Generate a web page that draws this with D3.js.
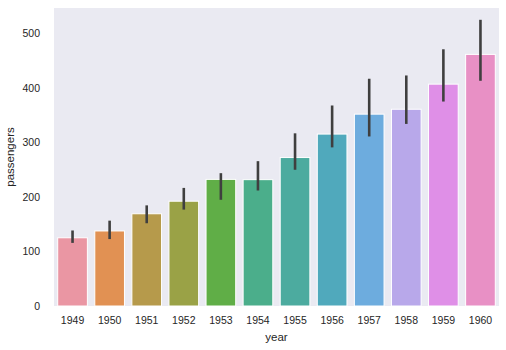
<!DOCTYPE html>
<html>
<head>
<meta charset="utf-8">
<script src="https://cdn.jsdelivr.net/npm/d3@7"></script>
<style>
  html, body { margin: 0; padding: 0; background: #ffffff; }
  svg { display: block; }
  text { font-family: "Liberation Sans", Arial, sans-serif; fill: #262626; }
</style>
</head>
<body>
<svg id="chart" width="506" height="350"></svg>
<script>
// Median monthly passengers per year, with 95% interval for each year
const years = ["1949", "1950", "1951", "1952", "1953", "1954", "1955", "1956", "1957", "1958", "1959", "1960"];
const medians = [125, 137.5, 169, 192, 232, 231.5, 272, 315, 351.5, 360.5, 406.5, 461];
const ciLow = [118, 125, 154, 179, 197, 214, 252, 293, 313, 336, 377, 415];
const ciHigh = [136, 154, 182, 214, 241, 263, 314, 365, 414, 420, 468, 522];
const barColors = ["#ea96a3", "#e19153", "#b69a4b", "#9aa246", "#60ae47", "#4bae8b", "#4cab9f", "#50a9bc", "#6dacde", "#b8a8ea", "#df8fe7", "#e890c5"];
const yTicks = [0, 100, 200, 300, 400, 500];

const svg = d3.select("#chart");
const margin = { left: 54, right: 7, top: 8, bottom: 44 };
const W = 506, H = 350;
const innerW = W - margin.left - margin.right;
const innerH = H - margin.top - margin.bottom;
const font = "Liberation Sans, Arial, sans-serif";

const g = svg.append("g").attr("transform", `translate(${margin.left},${margin.top})`);

g.append("rect")
  .attr("width", innerW)
  .attr("height", innerH)
  .attr("fill", "#eaeaf2");

const x = d3.scaleBand().domain(years).range([0, innerW]).paddingInner(0.2).paddingOuter(0.1);
const y = d3.scaleLinear().domain([0, 546]).range([innerH, 0]);

const rows = years.map((yr, i) => ({ yr, v: medians[i], lo: ciLow[i], hi: ciHigh[i], c: barColors[i] }));

g.selectAll("rect.bar")
  .data(rows)
  .join("rect")
  .attr("class", "bar")
  .attr("x", d => x(d.yr))
  .attr("width", x.bandwidth())
  .attr("y", d => y(d.v))
  .attr("height", d => y(0) - y(d.v))
  .attr("fill", d => d.c)
  .attr("stroke", "#ffffff")
  .attr("stroke-width", 1);

g.selectAll("line.err")
  .data(rows)
  .join("line")
  .attr("class", "err")
  .attr("x1", d => x(d.yr) + x.bandwidth() / 2)
  .attr("x2", d => x(d.yr) + x.bandwidth() / 2)
  .attr("y1", d => y(d.lo))
  .attr("y2", d => y(d.hi))
  .attr("stroke", "#3f3f3f")
  .attr("stroke-width", 2.6)
  .attr("stroke-linecap", "square");

// Axes without domain lines or tick marks
const xAxis = g.append("g")
  .attr("transform", `translate(0,${innerH})`)
  .call(d3.axisBottom(x).tickSize(0).tickPadding(11));
xAxis.select(".domain").remove();
xAxis.selectAll("text").attr("font-size", 10.5).attr("fill", "#262626").attr("font-family", font);

const yAxis = g.append("g")
  .call(d3.axisLeft(y).tickValues(yTicks).tickSize(0).tickPadding(14));
yAxis.select(".domain").remove();
yAxis.selectAll("text").attr("font-size", 10.5).attr("fill", "#262626").attr("font-family", font);

svg.append("text")
  .attr("x", margin.left + innerW / 2)
  .attr("y", 341)
  .attr("text-anchor", "middle")
  .attr("font-size", 11.5)
  .attr("font-family", font)
  .text("year");

svg.append("text")
  .attr("transform", `translate(14,${margin.top + innerH / 2}) rotate(-90)`)
  .attr("text-anchor", "middle")
  .attr("font-size", 11.5)
  .attr("font-family", font)
  .text("passengers");
</script>
</body>
</html>
